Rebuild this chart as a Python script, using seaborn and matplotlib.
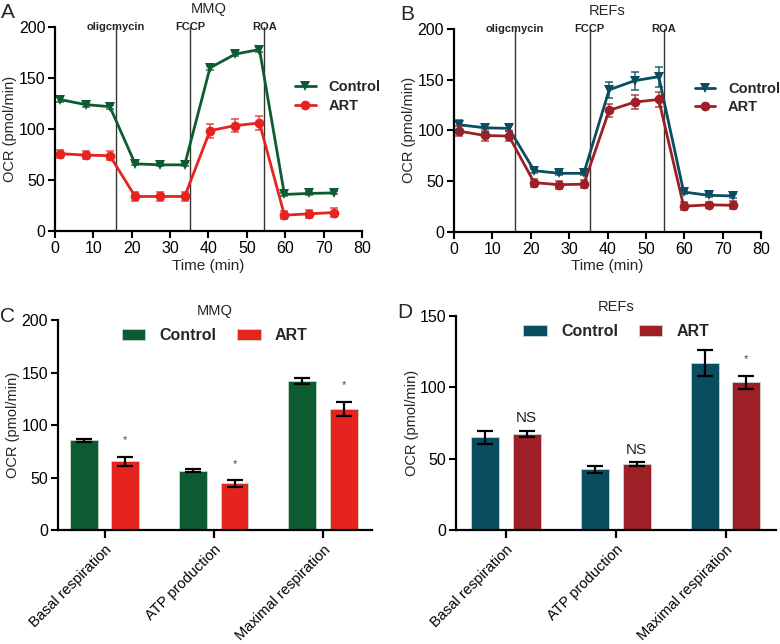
import numpy as np
import pandas as pd
import matplotlib
matplotlib.use("Agg")
import matplotlib.pyplot as plt
import seaborn as sns

sns.set_style("ticks")
plt.rcParams['font.family'] = ['Liberation Sans', 'DejaVu Sans']

# ---------------- data ----------------
time = [1.3, 8.0, 14.3, 20.9, 27.4, 33.8, 40.4, 47.0, 53.3, 59.8, 66.3, 72.6]

mmq_control = [129, 124, 122, 66, 65, 65, 160, 173.5, 178, 36, 37, 37.5]
mmq_control_err = [2, 2, 2, 1.5, 1.5, 1.5, 2, 2, 2, 1.5, 1.5, 1.5]
mmq_art = [76, 74.5, 74, 34, 34, 34, 98.5, 103.5, 106, 15.7, 17, 18.3]
mmq_art_err = [4, 4, 4.5, 4, 4, 4, 7, 6, 6.5, 4, 4, 4.5]

ref_control = [105.6, 102.6, 102, 60.3, 57.7, 57.7, 140, 149, 153, 39.3, 36, 35.4]
ref_control_err = [5, 4, 3, 2, 2, 2, 8, 9, 10, 2, 2, 2]
ref_art = [99.3, 95, 94.4, 48.5, 46.5, 47, 119.7, 127.9, 130.5, 25.2, 26.6, 26.2]
ref_art_err = [5, 5, 5, 4, 4, 4, 6, 7, 7, 4, 3, 4]

injections = [15.8, 35.3, 54.6]
injection_labels = ["oligcmycin", "FCCP", "ROA"]

categories = ["Basal respiration", "ATP production", "Maximal respiration"]
c_control = [85.4, 56.5, 141.9]
c_control_err = [1.5, 1.2, 2.5]
c_art = [65.4, 44.4, 115.2]
c_art_err = [4.5, 3.0, 7.0]
c_marks = ["*", "*", "*"]

d_control = [65.1, 42.7, 117.1]
d_control_err = [4.5, 2.5, 9.0]
d_art = [67.6, 46.4, 103.6]
d_art_err = [2.0, 1.5, 4.5]
d_marks = ["NS", "NS", "*"]

groups = ["Control", "ART"]

# colors
GREEN = "#0d5c31"
RED = "#e52420"
TEAL = "#0b4d60"
DRED = "#9e1f26"

fig = plt.figure(figsize=(7.8, 6.44), dpi=100)

axA = fig.add_axes([0.0705, 0.641, 0.3935, 0.317])
axB = fig.add_axes([0.582, 0.640, 0.394, 0.315])
axC = fig.add_axes([0.074, 0.177, 0.403, 0.326])
axD = fig.add_axes([0.585, 0.177, 0.41, 0.332])

TICKFS = 11.5
LABFS = 10.5


def style_axes(ax):
    for s in ["top", "right"]:
        ax.spines[s].set_visible(False)
    for s in ["left", "bottom"]:
        ax.spines[s].set_linewidth(1.6)
        ax.spines[s].set_color("black")
    ax.tick_params(axis="both", direction="out", width=1.5, length=5,
                   labelsize=TICKFS, colors="black", pad=2)


def line_panel(ax, ctrl, ctrl_err, art, art_err, cc, ca, title, letter):
    df = pd.DataFrame({
        "Time": time * 2,
        "OCR": ctrl + art,
        "Group": ["Control"] * len(time) + ["ART"] * len(time),
    })
    sns.lineplot(data=df, x="Time", y="OCR", hue="Group", style="Group",
                 palette={"Control": cc, "ART": ca},
                 markers={"Control": "v", "ART": "o"}, dashes=False,
                 markersize=7, linewidth=2, markeredgewidth=0, ax=ax,
                 legend=True)
    ax.errorbar(time, ctrl, yerr=ctrl_err, fmt="none", ecolor=cc, alpha=0.75,
                elinewidth=1.3, capsize=3, capthick=1.3)
    ax.errorbar(time, art, yerr=art_err, fmt="none", ecolor=ca, alpha=0.7,
                elinewidth=1.3, capsize=3, capthick=1.3)
    for xv, lab in zip(injections, injection_labels):
        ax.axvline(xv, color="#333333", linewidth=1.0, zorder=0)
        ax.text(xv, 195, lab, ha="center", va="bottom", fontsize=8,
                fontweight="bold", zorder=6)
    ax.set_xlim(0, 80)
    ax.set_ylim(0, 200)
    ax.set_xticks(range(0, 81, 10))
    ax.set_yticks(range(0, 201, 50))
    ax.set_xlabel("Time (min)", fontsize=LABFS + 0.5, labelpad=2)
    ax.set_ylabel("OCR (pmol/min)", fontsize=LABFS, labelpad=1)
    ax.set_title(title, fontsize=10.5, pad=10)
    style_axes(ax)
    leg = ax.legend(loc="center left", bbox_to_anchor=(0.74, 0.66),
                    frameon=False, fontsize=10.5, handlelength=1.4,
                    handletextpad=0.9, labelspacing=0.3)
    for t in leg.get_texts():
        t.set_fontweight("bold")
    ax.text(-0.175, 1.12, letter, transform=ax.transAxes, fontsize=15,
            ha="left", va="top")


line_panel(axA, mmq_control, mmq_control_err, mmq_art, mmq_art_err,
           GREEN, RED, "MMQ", "A")
line_panel(axB, ref_control, ref_control_err, ref_art, ref_art_err,
           TEAL, DRED, "REFs", "B")


def bar_panel(ax, ctrl, ctrl_err, art, art_err, cc, ca, marks, ymax, ystep,
              mark_y, title, letter, xlim):
    df = pd.DataFrame({
        "Category": categories * 2,
        "OCR": ctrl + art,
        "Group": ["Control"] * 3 + ["ART"] * 3,
    })
    sns.barplot(data=df, x="Category", y="OCR", hue="Group",
                hue_order=groups, palette={"Control": cc, "ART": ca},
                errorbar=None, width=0.76, gap=0.33, ax=ax, saturation=1,
                edgecolor="#c8d8c8", linewidth=0.6)
    patches = [p for p in ax.patches if p.get_height() > 0][:6]
    centers = [p.get_x() + p.get_width() / 2 for p in patches]
    vals = ctrl + art
    errs = ctrl_err + art_err
    ax.errorbar(centers, vals, yerr=errs, fmt="none", ecolor="black",
                elinewidth=1.6, capsize=5.5, capthick=1.6, zorder=5)
    for i, (m, yv) in enumerate(zip(marks, mark_y)):
        xc = centers[3 + i]
        if m == "*":
            ax.text(xc, yv, m, ha="center", va="center", fontsize=8,
                    color="#444444")
        else:
            ax.text(xc, yv, m, ha="center", va="center", fontsize=11,
                    color="#222222")
    ax.set_ylim(0, ymax)
    ax.set_yticks(np.arange(0, ymax + 1, ystep))
    ax.set_xlim(*xlim)
    ax.set_xlabel("")
    ax.set_ylabel("OCR (pmol/min)", fontsize=LABFS, labelpad=1)
    ax.set_title(title, fontsize=10.5, pad=4)
    style_axes(ax)
    ax.tick_params(axis="x", length=6, width=1.6, pad=3)
    plt.setp(ax.get_xticklabels(), rotation=45, ha="right",
             rotation_mode="anchor", fontsize=10.5)
    leg = ax.legend(loc="upper center", bbox_to_anchor=(0.5, 1.03), ncol=2,
                    frameon=False, fontsize=11.5, handlelength=1.45,
                    handleheight=0.6, handletextpad=0.9, columnspacing=1.3)
    for t in leg.get_texts():
        t.set_fontweight("bold")
    ax.text(-0.185, 1.06, letter, transform=ax.transAxes, fontsize=15,
            ha="left", va="top")


bar_panel(axC, c_control, c_control_err, c_art, c_art_err, GREEN, RED,
          c_marks, 200, 50, [85.7, 62.5, 138], "MMQ", "C", (-0.43, 2.45))
bar_panel(axD, d_control, d_control_err, d_art, d_art_err, TEAL, DRED,
          d_marks, 150, 50, [78.4, 56.2, 120], "REFs", "D", (-0.45, 2.46))

fig.savefig("out.png", dpi=100)
